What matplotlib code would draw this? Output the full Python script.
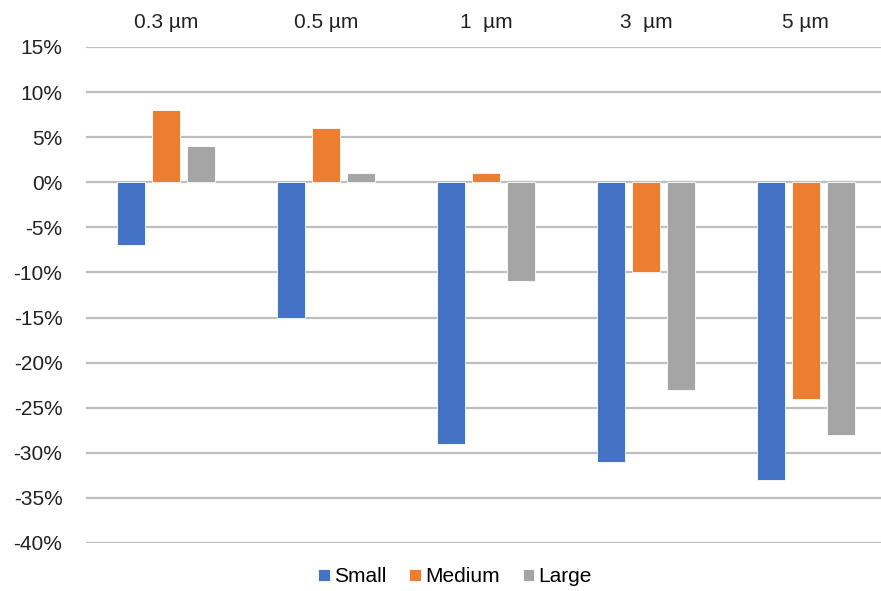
import matplotlib
matplotlib.use("Agg")
import matplotlib.pyplot as plt
import numpy as np
from matplotlib.ticker import FuncFormatter

categories = ["0.3 µm", "0.5 µm", "1  µm", "3  µm", "5 µm"]
small = [-7, -15, -29, -31, -33]
medium = [8, 6, 1, -10, -24]
large = [4, 1, -11, -23, -28]
series_names = ["Small", "Medium", "Large"]
colors = ["#4472C4", "#ED7D31", "#A5A5A5"]
yticks = list(range(-40, 16, 5))

plt.rcParams['font.family'] = ['Liberation Sans', 'DejaVu Sans']

fig = plt.figure(figsize=(8.81, 5.91), dpi=100)
ax = fig.add_axes([86/881, 48/591, 1 - 86/881, 496/591])

x = np.arange(len(categories))
w = 0.175
off = 0.22
for i, (vals, name, c) in enumerate(zip([small, medium, large], series_names, colors)):
    ax.bar(x + (i - 1) * off, vals, width=w, color=c, label=name,
           edgecolor='white', linewidth=0.6, zorder=3)

ax.set_ylim(-40, 15)
ax.set_xlim(-0.5, 4.47)
ax.set_yticks(yticks)
ax.yaxis.set_major_formatter(FuncFormatter(lambda v, p: f"{int(v)}%"))
ax.grid(axis='y', color='#BDBDBD', linewidth=1.6, zorder=0)
ax.set_axisbelow(True)
for s in ax.spines.values():
    s.set_visible(False)

ax.xaxis.tick_top()
ax.set_xticks(x)
ax.set_xticklabels(categories)
ax.tick_params(axis='x', length=0, pad=11, labelsize=15, colors='#222222')
ax.tick_params(axis='y', length=0, pad=17, labelsize=15, colors='#222222')

fig.legend(loc='center', bbox_to_anchor=(455/881, 1 - 577/591), ncol=3,
           frameon=False, fontsize=15, handlelength=0.55, handleheight=0.55,
           handletextpad=0.2, columnspacing=1.1)

fig.savefig("out.png", dpi=100)
